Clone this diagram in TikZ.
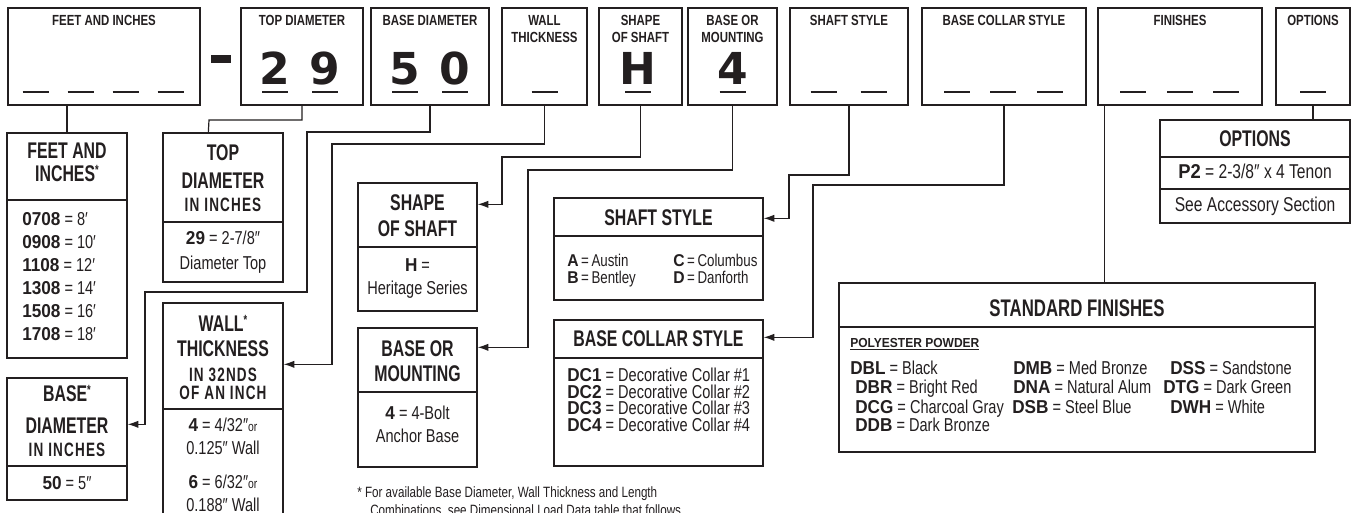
\documentclass[tikz,border=0pt]{standalone}
\usepackage{fontspec}
\setmainfont{Liberation Sans}[FakeStretch=0.78]
\newfontfamily\hdfont{Liberation Sans}[FakeStretch=0.7]
\newfontfamily\codefont{Liberation Sans}[FakeStretch=0.92]
\newfontfamily\bigfont{DejaVu Sans}
\newcommand\cd[1]{{\codefont\bfseries #1}}
\newcommand\st{\raisebox{0.28em}{\fontsize{10}{10}\selectfont *}}
\usetikzlibrary{fit,calc,arrows.meta}
\definecolor{ink}{HTML}{231F20}
\begin{document}
\begin{tikzpicture}[x=0.75pt,y=-0.75pt,
  topbox/.style={draw=ink, line width=1.7pt, inner sep=0pt},
  lowbox/.style={draw=ink, line width=1pt, inner sep=0pt},
  divline/.style={draw=ink, line width=0.9pt},
  conn/.style={draw=ink, line width=0.9pt},
  arr/.style={conn, -{Latex[length=8pt,width=5.5pt]}},
  ul/.style={draw=ink, line width=1.3pt},
  txt/.style={inner sep=0pt, text depth=0pt, text=ink},
  tt/.style={txt, font=\fontsize{11}{13}\selectfont\bfseries, text height=7.9pt},
  hd/.style={txt, font=\hdfont\bfseries\fontsize{17}{19}\selectfont, text height=12.2pt},
  sh/.style={txt, font=\hdfont\bfseries\fontsize{14.5}{16}\selectfont\addfontfeature{LetterSpace=6}, text height=10.4pt},
  bd/.style={txt, font=\fontsize{14}{16}\selectfont, text height=10pt},
  fd/.style={bd, anchor=west},
  sd/.style={txt, anchor=west, font=\fontsize{12.8}{15}\selectfont, text height=9.2pt},
  big/.style={txt, font=\bigfont\bfseries\fontsize{33}{36}\selectfont, text height=24pt, anchor=south},
  ft/.style={txt, font=\fontsize{11.2}{13}\selectfont, text height=8pt, anchor=west},
]
\useasboundingbox (0,0) rectangle (1357,513);
\clip (0,0) rectangle (1357,513);
\fill[white] (0,0) rectangle (1357,513);

% ---------- top row ----------
\node[topbox, fit={(8,8)(200,105)}] (feetTop) {};
\node[topbox, fit={(241,8)(363,105)}] (topdTop) {};
\node[topbox, fit={(371,8)(489,105)}] (basedTop) {};
\node[topbox, fit={(502,8)(587,105)}] (wallTop) {};
\node[topbox, fit={(599,8)(682,105)}] (shapeTop) {};
\node[topbox, fit={(688,8)(777,105)}] (mountTop) {};
\node[topbox, fit={(790,8)(908,105)}] (shaftTop) {};
\node[topbox, fit={(922,8)(1086,105)}] (collarTop) {};
\node[topbox, fit={(1098,8)(1262,105)}] (finTop) {};
\node[topbox, fit={(1276,8)(1350,105)}] (optTop) {};
\fill[ink] (211,55) rectangle (231,63);

\node[tt] (tt1) at (104,20) {FEET AND INCHES};
\node[tt] (tt2) at (302,20) {TOP DIAMETER};
\node[tt] (tt3) at (430,20) {BASE DIAMETER};
\node[tt] (tt4) at (544.5,20) {WALL};
\node[tt] (tt5) at (544.5,37) {THICKNESS};
\node[tt] (tt6) at (640.5,20) {SHAPE};
\node[tt] (tt7) at (640.5,37) {OF SHAFT};
\node[tt] (tt8) at (732.5,20) {BASE OR};
\node[tt] (tt9) at (732.5,37) {MOUNTING};
\node[tt] (tt10) at (849,20) {SHAFT STYLE};
\node[tt] (tt11) at (1004,20) {BASE COLLAR STYLE};
\node[tt] (tt12) at (1180,20) {FINISHES};
\node[tt] (tt13) at (1313,20) {OPTIONS};

\foreach \c in {35.5,80.5,125.5,170.5,275,325,405,455,544.5,638,732.5,823.5,873.5,957,1003,1050,1133,1180,1226,1313}
  \draw[ul] (\c-13,92) -- (\c+13,92);

\node[big] (b1) at (275,85) {2};
\node[big] (b2) at (325,85) {9};
\node[big] (b3) at (405,85) {5};
\node[big] (b4) at (455,85) {0};
\node[big] (b5) at (638,85) {H};
\node[big] (b6) at (732.5,85) {4};

% ---------- lower boxes ----------
\node[lowbox, fit={(7,133)(127,358)}] (feetBox) {};
\draw[divline] (7,200) -- (127,200);
\node[hd] (f1) at (67,150) {FEET AND};
\node[hd] (f2) at (67,173) {INCHES\st};
\node[fd] (f3) at (22,219) {\cd{0708} = 8′};
\node[fd] (f4) at (22,242) {\cd{0908} = 10′};
\node[fd] (f5) at (22,265) {\cd{1108} = 12′};
\node[fd] (f6) at (22,288) {\cd{1308} = 14′};
\node[fd] (f7) at (22,311) {\cd{1508} = 16′};
\node[fd] (f8) at (22,334) {\cd{1708} = 18′};

\node[lowbox, fit={(163,133)(283,282)}] (topdBox) {};
\draw[divline] (163,222) -- (283,222);
\node[hd] (d1) at (223,152) {TOP};
\node[hd] (d2) at (223,180) {DIAMETER};
\node[sh] (d3) at (223,205) {IN INCHES};
\node[bd] (d4) at (223,238) {\cd{29} = 2-7/8″};
\node[bd] (d5) at (223,263) {Diameter Top};

\node[lowbox, fit={(7,378)(127,500)}] (baseBox) {};
\draw[divline] (7,466) -- (127,466);
\node[hd] (e1) at (67,393) {BASE\st};
\node[hd] (e2) at (67,425) {DIAMETER};
\node[sh] (e3) at (67,450) {IN INCHES};
\node[bd] (e4) at (67,483) {\cd{50} = 5″};

\node[lowbox, fit={(163,303)(283,530)}] (wallBox) {};
\draw[divline] (163,409) -- (283,409);
\node[hd] (w1) at (223,323) {WALL\st};
\node[hd] (w2) at (223,348) {THICKNESS};
\node[sh] (w3) at (223,375) {IN 32NDS};
\node[sh] (w4) at (223,393) {OF AN INCH};
\node[bd] (w5) at (223,425) {\cd{4} = 4/32″{\fontsize{10}{12}\selectfont or}};
\node[bd] (w6) at (223,448) {0.125″ Wall};
\node[bd] (w7) at (223,482) {\cd{6} = 6/32″{\fontsize{10}{12}\selectfont or}};
\node[bd] (w8) at (223,505) {0.188″ Wall};

\node[lowbox, fit={(358,183)(477,311)}] (shapeBox) {};
\draw[divline] (358,247) -- (477,247);
\node[hd] (s1) at (417.5,202) {SHAPE};
\node[hd] (s2) at (417.5,228) {OF SHAFT};
\node[bd] (s3) at (417.5,265) {\cd{H} =};
\node[bd] (s4) at (417.5,288) {Heritage Series};

\node[lowbox, fit={(358,328)(477,467)}] (mountBox) {};
\draw[divline] (358,392) -- (477,392);
\node[hd] (m1) at (417.5,348) {BASE OR};
\node[hd] (m2) at (417.5,373) {MOUNTING};
\node[bd] (m3) at (417.5,413) {\cd{4} = 4-Bolt};
\node[bd] (m4) at (417.5,436) {Anchor Base};

\node[lowbox, fit={(554,198)(763,300)}] (shaftBox) {};
\draw[divline] (554,236) -- (763,236);
\node[hd] (h1) at (658.5,217) {SHAFT STYLE};
\node[sd] (h2) at (567,260) {\cd{A}\hspace{0.15em}=\hspace{0.15em}Austin};
\node[sd] (h3) at (673,260) {\cd{C}\hspace{0.15em}=\hspace{0.15em}Columbus};
\node[sd] (h4) at (567,277) {\cd{B}\hspace{0.15em}=\hspace{0.15em}Bentley};
\node[sd] (h5) at (673,277) {\cd{D}\hspace{0.15em}=\hspace{0.15em}Danforth};

\node[lowbox, fit={(554,320)(763,466)}] (collarBox) {};
\draw[divline] (554,358) -- (763,358);
\node[hd] (c1) at (658.5,338) {BASE COLLAR STYLE};
\node[fd] (c2) at (567,375) {\cd{DC1} = Decorative Collar \#1};
\node[fd] (c3) at (567,392) {\cd{DC2} = Decorative Collar \#2};
\node[fd] (c4) at (567,408) {\cd{DC3} = Decorative Collar \#3};
\node[fd] (c5) at (567,425) {\cd{DC4} = Decorative Collar \#4};

\node[lowbox, fit={(839,283)(1315,452)}] (finBox) {};
\draw[divline] (839,327) -- (1315,327);
\node[hd] (n1) at (1077,308) {\fontsize{18}{20}\selectfont STANDARD FINISHES};
\node[txt, anchor=west, font=\codefont\bfseries\fontsize{9.8}{12}\selectfont, text height=7pt] (n2) at (850,343) {\underline{POLYESTER POWDER}};
\node[fd] (n3) at (850,368) {\cd{DBL} = Black};
\node[fd] (n4) at (855,387) {\cd{DBR} = Bright Red};
\node[fd] (n5) at (855,407) {\cd{DCG} = Charcoal Gray};
\node[fd] (n6) at (855,425) {\cd{DDB} = Dark Bronze};
\node[fd] (n7) at (1013,368) {\cd{DMB} = Med Bronze};
\node[fd] (n8) at (1013,387) {\cd{DNA} = Natural Alum};
\node[fd] (n9) at (1012,407) {\cd{DSB} = Steel Blue};
\node[fd] (n10) at (1170,368) {\cd{DSS} = Sandstone};
\node[fd] (n11) at (1163,387) {\cd{DTG} = Dark Green};
\node[fd] (n12) at (1170,407) {\cd{DWH} = White};

\node[lowbox, fit={(1160,120)(1350,223)}] (optBox) {};
\draw[divline] (1160,157) -- (1350,157);
\draw[divline] (1160,189) -- (1350,189);
\node[hd] (o1) at (1255,138) {OPTIONS};
\node[bd, font=\fontsize{15}{17}\selectfont] (o2) at (1255,172) {\cd{P2} = 2-3/8″ x 4 Tenon};
\node[bd, font=\fontsize{15}{17}\selectfont] (o3) at (1255,205) {See Accessory Section};

\node[ft] (fn1) at (357,492) {* For available Base Diameter, Wall Thickness and Length};
\node[ft] (fn2) at (370,510) {Combinations, see Dimensional Load Data table that follows.};

% ---------- connectors ----------
\draw[conn] (feetTop.south -| feetBox.north) -- (feetBox.north);
\draw[conn] (topdTop.south) |- (209,120) -- ($(topdBox.north west)+(46,0)$);
\draw[arr] (basedTop.south) |- (307,132) |- (145,292) |- ($(baseBox.north east)+(0,47)$);
\draw[arr] (wallTop.south) |- (332,144) |- ($(wallBox.north east)+(0,62)$);
\draw[arr] (shapeTop.south) |- (502,157) |- ($(shapeBox.north east)+(0,22)$);
\draw[arr] (mountTop.south) |- (528,170) |- ($(mountBox.north east)+(0,20)$);
\draw[arr] (shaftTop.south) |- (789,175) |- ($(shaftBox.north east)+(0,21)$);
\draw[arr] (collarTop.south) |- (813,185) |- ($(collarBox.north east)+(0,18)$);
\draw[conn] ($(finTop.south west)+(8,0)$) coordinate (fj) -- (fj |- finBox.north);
\draw[conn] (optTop.south) -- (optTop.south |- optBox.north);
\end{tikzpicture}
\end{document}
